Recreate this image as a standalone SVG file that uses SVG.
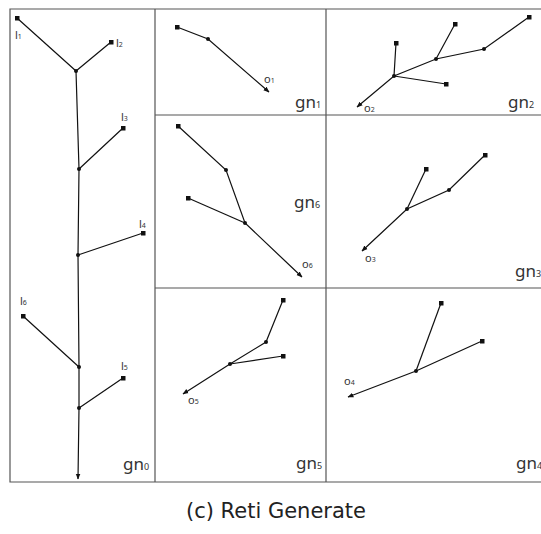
<svg xmlns="http://www.w3.org/2000/svg" width="541" height="534" viewBox="0 0 541 534">
<style>
.frame{fill:none;stroke:#555;stroke-width:1.2}
.e{stroke:#111;stroke-width:1.2;fill:none}
.sq{fill:#111}
.dot{fill:#111}
.lab{font-family:"Noto Sans","Open Sans",sans-serif;fill:#333;font-size:11px}
.gn{font-family:"Noto Sans","Open Sans",sans-serif;fill:#333;font-size:17px}
.sub{font-size:7px}
.gsub{font-size:9px}
.cap{font-family:"DejaVu Sans","Liberation Sans",sans-serif;fill:#222;font-size:21px}
</style>
<defs>
<marker id="ah" viewBox="0 0 10 10" refX="9" refY="5" markerWidth="6" markerHeight="6" orient="auto" markerUnits="userSpaceOnUse">
<path d="M0,1 L10,5 L0,9 z" fill="#111"/>
</marker>
</defs>
<rect width="541" height="534" fill="#fff"/>
<g id="frame">
<path class="frame" d="M545,9 H10 V482 H545 M155,9 V482 M326,9 V482 M155,115 H545 M155,288 H545"/>
</g>
<g id="connectors">
<path class="e" d="M17,18 L76,71 M111,42 L76,71 M76,71 L79,169 L78,255 L79,367 L79,408 L78,479" marker-end="url(#ah)"/>
<path class="e" d="M123,128 L79,169 M143,233 L78,255 M23,316 L79,367 M123,378 L79,408"/>
<path class="e" d="M177,27 L208,39 L269,92" marker-end="url(#ah)"/>
<path class="e" d="M529,17 L484,49 L436,59 L394,76 L357,107" marker-end="url(#ah)"/>
<path class="e" d="M455,24 L436,59 M396,43 L394,76 M446,84 L394,76"/>
<path class="e" d="M178,126 L226,170 L245,223 L302,277" marker-end="url(#ah)"/>
<path class="e" d="M188,198 L245,223"/>
<path class="e" d="M485,155 L449,190 L407,209 L362,251" marker-end="url(#ah)"/>
<path class="e" d="M426,169 L407,209"/>
<path class="e" d="M283,300 L266,342 L230,364 L183,394" marker-end="url(#ah)"/>
<path class="e" d="M283,356 L230,364"/>
<path class="e" d="M482,341 L416,371 L348,397" marker-end="url(#ah)"/>
<path class="e" d="M441,303 L416,371"/>
</g>
<g id="gn0">
<rect class="sq" x="15" y="16" width="4.5" height="4.5"/>
<rect class="sq" x="109" y="40" width="4.5" height="4.5"/>
<rect class="sq" x="121" y="126" width="4.5" height="4.5"/>
<rect class="sq" x="141" y="231" width="4.5" height="4.5"/>
<rect class="sq" x="21" y="314" width="4.5" height="4.5"/>
<rect class="sq" x="121" y="376" width="4.5" height="4.5"/>
<circle class="dot" cx="76" cy="71" r="2"/>
<circle class="dot" cx="79" cy="169" r="2"/>
<circle class="dot" cx="78" cy="255" r="2"/>
<circle class="dot" cx="79" cy="367" r="2"/>
<circle class="dot" cx="79" cy="408" r="2"/>
<text class="lab" x="15" y="39">l<tspan class="sub">1</tspan></text>
<text class="lab" x="116" y="47">l<tspan class="sub">2</tspan></text>
<text class="lab" x="121" y="121">l<tspan class="sub">3</tspan></text>
<text class="lab" x="139" y="228">l<tspan class="sub">4</tspan></text>
<text class="lab" x="20" y="305">l<tspan class="sub">6</tspan></text>
<text class="lab" x="121" y="370">l<tspan class="sub">5</tspan></text>
<text class="gn" x="123" y="470">gn<tspan class="gsub">0</tspan></text>
</g>
<g id="gn1">
<rect class="sq" x="175" y="25" width="4.5" height="4.5"/>
<circle class="dot" cx="208" cy="39" r="2"/>
<text class="lab" x="264" y="83">o<tspan class="sub">1</tspan></text>
<text class="gn" x="295" y="108">gn<tspan class="gsub">1</tspan></text>
</g>
<g id="gn2">
<rect class="sq" x="527" y="15" width="4.5" height="4.5"/>
<rect class="sq" x="453" y="22" width="4.5" height="4.5"/>
<rect class="sq" x="394" y="41" width="4.5" height="4.5"/>
<rect class="sq" x="444" y="82" width="4.5" height="4.5"/>
<circle class="dot" cx="484" cy="49" r="2"/>
<circle class="dot" cx="436" cy="59" r="2"/>
<circle class="dot" cx="394" cy="76" r="2"/>
<text class="lab" x="364" y="112">o<tspan class="sub">2</tspan></text>
<text class="gn" x="508" y="108">gn<tspan class="gsub">2</tspan></text>
</g>
<g id="gn6">
<rect class="sq" x="176" y="124" width="4.5" height="4.5"/>
<rect class="sq" x="186" y="196" width="4.5" height="4.5"/>
<circle class="dot" cx="226" cy="170" r="2"/>
<circle class="dot" cx="245" cy="223" r="2"/>
<text class="lab" x="302" y="268">o<tspan class="sub">6</tspan></text>
<text class="gn" x="294" y="208">gn<tspan class="gsub">6</tspan></text>
</g>
<g id="gn3">
<rect class="sq" x="483" y="153" width="4.5" height="4.5"/>
<rect class="sq" x="424" y="167" width="4.5" height="4.5"/>
<circle class="dot" cx="449" cy="190" r="2"/>
<circle class="dot" cx="407" cy="209" r="2"/>
<text class="lab" x="365" y="262">o<tspan class="sub">3</tspan></text>
<text class="gn" x="515" y="277">gn<tspan class="gsub">3</tspan></text>
</g>
<g id="gn5">
<rect class="sq" x="281" y="298" width="4.5" height="4.5"/>
<rect class="sq" x="281" y="354" width="4.5" height="4.5"/>
<circle class="dot" cx="266" cy="342" r="2"/>
<circle class="dot" cx="230" cy="364" r="2"/>
<text class="lab" x="188" y="404">o<tspan class="sub">5</tspan></text>
<text class="gn" x="296" y="469">gn<tspan class="gsub">5</tspan></text>
</g>
<g id="gn4">
<rect class="sq" x="439" y="301" width="4.5" height="4.5"/>
<rect class="sq" x="480" y="339" width="4.5" height="4.5"/>
<circle class="dot" cx="416" cy="371" r="2"/>
<text class="lab" x="344" y="385">o<tspan class="sub">4</tspan></text>
<text class="gn" x="516" y="469">gn<tspan class="gsub">4</tspan></text>
</g>
<text class="cap" x="276" y="518" text-anchor="middle">(c) Reti Generate</text>
</svg>
